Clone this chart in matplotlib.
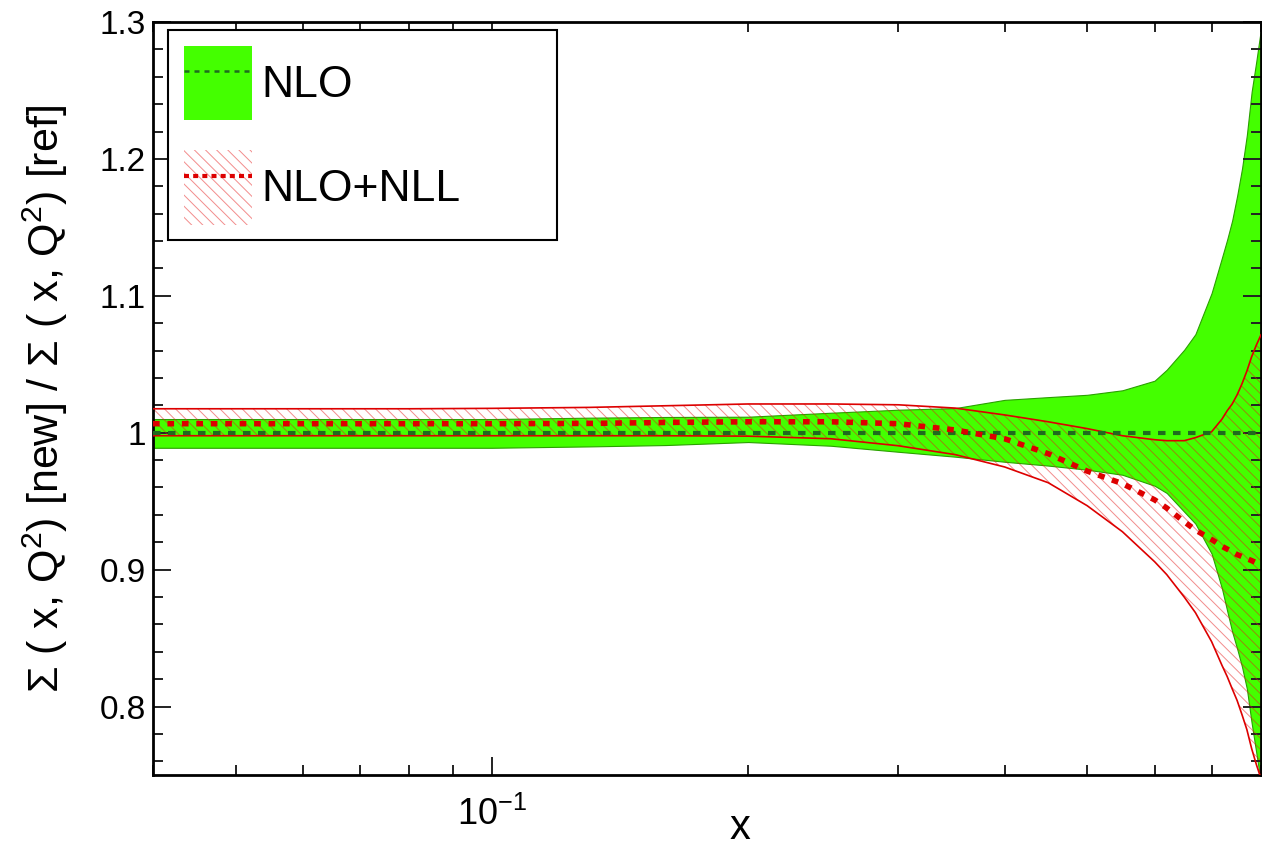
import matplotlib
matplotlib.use("Agg")
import matplotlib.pyplot as plt
import numpy as np
from matplotlib.patches import Patch
from matplotlib.lines import Line2D
from matplotlib.ticker import MultipleLocator, FuncFormatter, LogLocator, NullFormatter, FixedLocator

plt.rcParams['font.family'] = ['Liberation Sans', 'DejaVu Sans']
plt.rcParams['mathtext.fontset'] = 'custom'
plt.rcParams['mathtext.rm'] = 'Liberation Sans'
plt.rcParams['mathtext.it'] = 'Liberation Sans'
plt.rcParams['hatch.linewidth'] = 0.7

# ---- data ----
x = [0.04, 0.06, 0.08, 0.1, 0.13, 0.16, 0.2, 0.25, 0.3, 0.35, 0.4, 0.45, 0.5, 0.55,
     0.6, 0.62, 0.65, 0.67, 0.7, 0.72, 0.73, 0.74, 0.75, 0.76, 0.77, 0.78, 0.79, 0.8]

nlo_central = [1.0] * len(x)
nlo_upper = [1.010, 1.010, 1.010, 1.010, 1.011, 1.0115, 1.0117, 1.0146, 1.0168, 1.018, 1.024, 1.026, 1.0277, 1.031,
             1.038, 1.046, 1.0606, 1.072, 1.102, 1.128, 1.141, 1.155, 1.173, 1.193, 1.2175, 1.249, 1.2715, 1.295]
nlo_lower = [0.989, 0.989, 0.989, 0.989, 0.990, 0.991, 0.9932, 0.9905, 0.9861, 0.9825, 0.9788, 0.976, 0.973, 0.9693,
             0.9613, 0.956, 0.9423, 0.9336, 0.9117, 0.886, 0.870, 0.8547, 0.8423, 0.829, 0.813, 0.788, 0.766, 0.744]

nll_central = [1.0066, 1.0066, 1.0066, 1.0066, 1.0068, 1.0075, 1.008, 1.008, 1.0066, 1.002, 0.9956, 0.9847, 0.972, 0.9628,
               0.951, 0.945, 0.935, 0.929, 0.922, 0.917, 0.915, 0.913, 0.911, 0.9095, 0.908, 0.9066, 0.905, 0.9036]
nll_upper = [1.0175, 1.0175, 1.0175, 1.0178, 1.0185, 1.0197, 1.021, 1.021, 1.0204, 1.018, 1.013, 1.008, 1.003, 0.9978,
             0.9949, 0.9942, 0.9942, 0.9964, 1.0007, 1.010, 1.016, 1.021, 1.0277, 1.0358, 1.045, 1.0555, 1.064, 1.0715]
nll_lower = [0.9978, 0.9978, 0.9978, 0.9978, 0.9978, 0.9978, 0.9975, 0.9956, 0.9905, 0.984, 0.975, 0.9635, 0.9467, 0.9277,
             0.9058, 0.8964, 0.880, 0.8686, 0.8474, 0.83, 0.822, 0.813, 0.8044, 0.794, 0.7832, 0.7693, 0.7577, 0.7474]

labels = ["NLO", "NLO+NLL"]
ylabel = r"Σ ( x, Q$^{2}$) [new] / Σ ( x, Q$^{2}$) [ref]"
xlabel = "x"

GREEN = "#44ff00"
DKGREEN = "#1f6b1f"
RED = "#dd0000"
HATCH_C = (0.9, 0.1, 0.1, 0.5)

fig = plt.figure(figsize=(12.62, 8.56), dpi=100)
W, H = 1262, 856
ax = fig.add_axes([153 / W, 81 / H, 1108 / W, 753 / H])

ax.fill_between(x, nlo_lower, nlo_upper, facecolor=GREEN, edgecolor="#2aa000", linewidth=0.8, zorder=1)
ax.fill_between(x, nll_lower, nll_upper, facecolor="none", edgecolor=HATCH_C,
                hatch="\\\\\\", linewidth=0, zorder=2)
ax.plot(x, nll_upper, color=RED, lw=1.2, zorder=3)
ax.plot(x, nll_lower, color=RED, lw=1.2, zorder=3)
ax.plot(x, nlo_central, color=DKGREEN, lw=3.0, dashes=(1.8, 1.8), zorder=4)
ax.plot(x, nll_central, color=RED, lw=4.0, dashes=(1.2, 1.4), zorder=5)

ax.set_xscale("log")
ax.set_xlim(0.04, 0.8)
ax.set_ylim(0.75, 1.3)

ax.xaxis.set_major_locator(FixedLocator([0.1]))
ax.xaxis.set_major_formatter(FuncFormatter(lambda v, p: r"$\mathregular{10^{-1}}$"))
ax.xaxis.set_minor_locator(LogLocator(base=10, subs=np.arange(2, 10)))
ax.xaxis.set_minor_formatter(NullFormatter())
ax.yaxis.set_major_locator(MultipleLocator(0.1))
ax.yaxis.set_minor_locator(MultipleLocator(0.02))
ax.yaxis.set_major_formatter(FuncFormatter(lambda v, p: f"{v:g}"))

ax.tick_params(which="both", direction="in", top=True, right=True, width=1.4, color="#222222")
ax.tick_params(which="major", length=13, labelsize=24, pad=5)
ax.tick_params(which="minor", length=7)
ax.tick_params(axis="x", which="major", labelsize=26, pad=16)
for s in ax.spines.values():
    s.set_linewidth(2.0)

ax.set_ylabel(ylabel, fontsize=31)
ax.yaxis.set_label_coords(-(153 - 70) / 1108, 0.5)
ax.set_xlabel(xlabel, fontsize=30)
ax.xaxis.set_label_coords((740 - 153) / 1108, -0.044)

h_nlo = (Patch(facecolor=GREEN, edgecolor="none"),
         Line2D([], [], color=DKGREEN, lw=1.8, dashes=(2, 2)))
h_nll = (Patch(facecolor="white", edgecolor=HATCH_C, hatch="\\\\\\", linewidth=0),
         Line2D([], [], color=RED, lw=3.0, dashes=(1.2, 1.0)))
leg = ax.legend([h_nlo, h_nll], labels, loc="upper left",
                bbox_to_anchor=((168 - 153) / 1108, 0.0, (557 - 168) / 1108, (775 - 30) / 753),
                mode="expand", fontsize=32, frameon=True, fancybox=False, shadow=False,
                handlelength=1.55, handleheight=2.2, handletextpad=0.2, labelspacing=0.68,
                borderpad=0.35, borderaxespad=0.0)
leg.get_frame().set_edgecolor("black")
leg.get_frame().set_linewidth(1.5)
leg.get_frame().set_alpha(1)

fig.savefig("out.png", dpi=100)
